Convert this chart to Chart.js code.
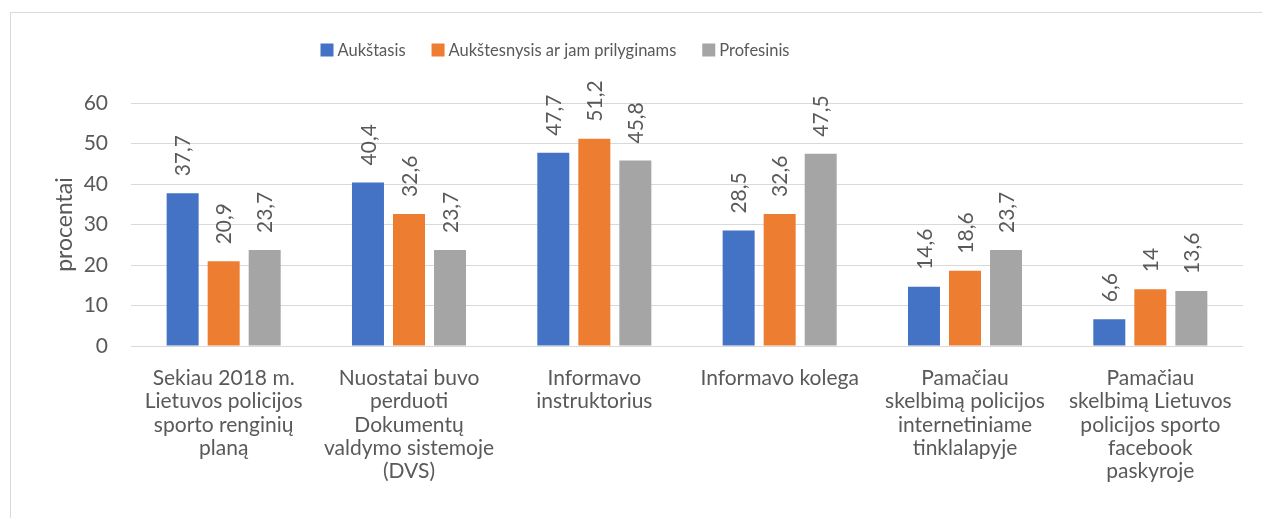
<!DOCTYPE html>
<html>
<head>
<meta charset="utf-8">
<script src="https://cdn.jsdelivr.net/npm/chart.js@4.4.1/dist/chart.umd.min.js"></script>
<style>
html,body{margin:0;padding:0;background:#fff;}
#wrap{position:relative;width:1262px;height:518px;}
</style>
</head>
<body>
<div id="wrap"><canvas id="c" width="1262" height="518"></canvas></div>
<script>
const categories = [
  ["Sekiau 2018 m.", "Lietuvos policijos", "sporto renginių", "planą"],
  ["Nuostatai buvo", "perduoti", "Dokumentų", "valdymo sistemoje", "(DVS)"],
  ["Informavo", "instruktorius"],
  ["Informavo kolega"],
  ["Pamačiau", "skelbimą policijos", "internetiniame", "tinklalapyje"],
  ["Pamačiau", "skelbimą Lietuvos", "policijos sporto", "facebook", "paskyroje"]
];
const seriesNames = ["Aukštasis", "Aukštesnysis ar jam prilyginams", "Profesinis"];
const aukstasis = [37.7, 40.4, 47.7, 28.5, 14.6, 6.6];
const aukstesnysis = [20.9, 32.6, 51.2, 32.6, 18.6, 14];
const profesinis = [23.7, 23.7, 45.8, 47.5, 23.7, 13.6];
const yTicks = [0, 10, 20, 30, 40, 50, 60];
const yTitle = "procentai";

const FONT = "Lato, 'Liberation Sans', sans-serif";
const TXT = "#595959";
const colors = ["#4472C4", "#ED7D31", "#A5A5A5"];

const borderPlugin = {
  id: 'border',
  beforeDraw(chart) {
    const ctx = chart.ctx;
    ctx.save();
    ctx.fillStyle = '#fff';
    ctx.fillRect(0, 0, chart.width, chart.height);
    ctx.strokeStyle = '#D9D9D9';
    ctx.lineWidth = 1;
    ctx.strokeRect(10.5, 12.5, 1400, 700);
    ctx.restore();
  }
};

const legendPlugin = {
  id: 'customLegend',
  afterDraw(chart) {
    const ctx = chart.ctx;
    ctx.save();
    ctx.font = "16.5px " + FONT;
    ctx.textBaseline = 'middle';
    const box = 13, boxGap = 4, itemGap = 26;
    const items = chart.data.datasets.map(d => ({label: d.label, color: d.backgroundColor, w: ctx.measureText(d.label).width}));
    let total = 0;
    items.forEach((it, i) => { total += box + boxGap + it.w + (i < items.length - 1 ? itemGap : 0); });
    let x = 555 - total / 2;
    const y = 50;
    items.forEach(it => {
      ctx.fillStyle = it.color;
      ctx.fillRect(x, y - 6.5, box, box);
      x += box + boxGap;
      ctx.fillStyle = TXT;
      ctx.textAlign = 'left';
      ctx.fillText(it.label, x, y + 1);
      x += it.w + itemGap;
    });
    ctx.restore();
  }
};

const valueLabelPlugin = {
  id: 'valueLabels',
  afterDatasetsDraw(chart) {
    const ctx = chart.ctx;
    ctx.save();
    ctx.font = "21px " + FONT;
    ctx.fillStyle = TXT;
    ctx.textAlign = 'left';
    ctx.textBaseline = 'middle';
    chart.data.datasets.forEach((ds, di) => {
      const meta = chart.getDatasetMeta(di);
      meta.data.forEach((bar, i) => {
        const txt = String(ds.data[i]).replace('.', ',');
        ctx.save();
        ctx.translate(bar.x, bar.y - 17);
        ctx.rotate(-Math.PI / 2);
        ctx.fillText(txt, 0, 1);
        ctx.restore();
      });
    });
    ctx.restore();
  }
};

new Chart(document.getElementById('c'), {
  type: 'bar',
  data: {
    labels: categories,
    datasets: [
      {label: seriesNames[0], data: aukstasis, backgroundColor: colors[0]},
      {label: seriesNames[1], data: aukstesnysis, backgroundColor: colors[1]},
      {label: seriesNames[2], data: profesinis, backgroundColor: colors[2]}
    ]
  },
  options: {
    responsive: false,
    animation: false,
    devicePixelRatio: 1,
    layout: {padding: {top: 103, right: 19, bottom: 0, left: 0}},
    datasets: {bar: {categoryPercentage: 0.664, barPercentage: 0.78}},
    plugins: {legend: {display: false}, tooltip: {enabled: false}},
    scales: {
      x: {
        grid: {display: false},
        border: {display: false},
        ticks: {color: TXT, font: {family: FONT, size: 21, lineHeight: 1.1}, padding: 13, maxRotation: 0, autoSkip: false},
        afterFit(scale) { scale.height = 172; }
      },
      y: {
        min: 0, max: 60,
        afterBuildTicks(scale) { scale.ticks = yTicks.map(v => ({value: v})); },
        grid: {color: '#D9D9D9', lineWidth: 1, drawTicks: false},
        border: {display: false},
        ticks: {color: TXT, font: {family: FONT, size: 21}, padding: 23},
        title: {display: true, text: yTitle, color: TXT, font: {family: FONT, size: 23}, padding: {top: 51, bottom: 0}},
        afterFit(scale) { scale.width = 131; }
      }
    }
  },
  plugins: [borderPlugin, legendPlugin, valueLabelPlugin]
});
</script>
</body>
</html>
